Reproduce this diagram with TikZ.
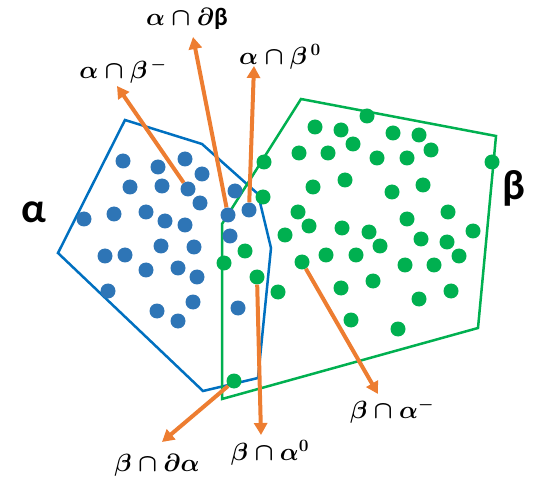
\documentclass[tikz,border=0pt]{standalone}
\usepackage{amsmath}
\usepackage{fontspec}
\newfontfamily\sansgrk{Carlito}
\usepackage{tikz}
\usetikzlibrary{arrows.meta,positioning}
\definecolor{setblue}{HTML}{0070C0}
\definecolor{dotblue}{HTML}{2E75B6}
\definecolor{setgreen}{HTML}{00B050}
\definecolor{ptrorange}{HTML}{ED7D31}
\newcommand{\sgb}{\text{\sansgrk\bfseries β}}
\tikzset{
  >={Triangle[length=12pt,width=13pt]},
  bdot/.style={circle, fill=dotblue, minimum size=15pt, inner sep=0pt},
  gdot/.style={circle, fill=setgreen, minimum size=15pt, inner sep=0pt},
  ptr/.style={->, draw=ptrorange, line width=4pt},
  setlbl/.style={font=\fontsize{25}{29}\selectfont\boldmath, inner sep=0pt},
  setname/.style={font=\sansgrk\bfseries\fontsize{42}{46}\selectfont, inner sep=0pt},
}

\begin{document}
\begin{tikzpicture}[x=1pt, y=-1pt]
\useasboundingbox (0,0) rectangle (533,489);

% the two sets
\draw[setblue, line width=2.5pt] (125,120) -- (202,144) -- (258,194) -- (271,248)
  -- (258,378) -- (203,391) -- (58,253) -- cycle;
\draw[setgreen, line width=2.5pt] (301,99) -- (496,136) -- (478,328) -- (222,399)
  -- (222,224) -- cycle;

% points of alpha
\foreach \p [count=\i] in {(123,161),(158,167),(185,159),(202,174),(130,187),(162,186),
  (200,203),(84,219),(114,214),(146,212),(165,221),(185,225),(161,246),(194,247),
  (105,256),(125,255),(146,270),(178,268),(197,277),(108,291),(193,302),(157,311),
  (178,321),(235,191),(230,236),(238,308)}
  \node[bdot] (a\i) at \p {};

% points of beta
\foreach \p [count=\i] in {(367,116),(315,127),(341,130),(393,133),(419,135),(431,150),
  (299,153),(328,153),(353,144),(377,158),(407,158),(264,162),(492,162),(313,187),
  (345,180),(392,192),(423,185),(263,197),(298,212),(448,212),(407,219),(309,226),
  (342,228),(369,232),(285,235),(473,231),(421,239),(447,242),(380,246),(326,255),
  (356,255),(459,256),(405,265),(434,265),(278,292),(341,288),(373,281),(419,299),
  (451,291),(351,320),(398,329),(245,251),(224,263)}
  \node[gdot] (b\i) at \p {};

% the points that are pointed at
\node[bdot] (aout) at (188,189) {};
\node[bdot] (aedge) at (228,215) {};
\node[bdot] (ain) at (249,210) {};
\node[gdot] (bout) at (302,262) {};
\node[gdot] (bedge) at (234,381) {};
\node[gdot] (bin) at (257,277) {};

% names of the sets
\node[setname] (alpha) at (34,212) {α};
\node[setname] (beta) at (514,188) {β};

% labels
\node[setlbl] (lout) at (123,71) {$\alpha\cap\beta^{\,-}$};
\node[setlbl] (ledge) at (187,19) {$\alpha\cap\partial\sgb$};
\node[setlbl] (lin) at (280,57) {$\alpha\cap\beta^{\,0}$};
\node[setlbl] (mout) at (392,411) {$\beta\cap\alpha^{-}$};
\node[setlbl] (medge) at (157,465) {$\beta\cap\partial\alpha$};
\node[setlbl] (min) at (270,453) {$\beta\cap\alpha^{0}$};

\coordinate (tout) at (117,86);
\coordinate (tedge) at (193,37);
\coordinate (tin) at (254,66);
\coordinate (uout) at (378,394);
\coordinate (uedge) at (162,442);
\coordinate (uin) at (261,435);

\draw[ptr] (aout) -- (tout);
\draw[ptr] (aedge) -- (tedge);
\draw[ptr] (ain) -- (tin);
\draw[ptr] (bout) -- (uout);
\draw[ptr] (bedge) -- (uedge);
\draw[ptr] (bin) -- (uin);

\end{tikzpicture}
\end{document}
